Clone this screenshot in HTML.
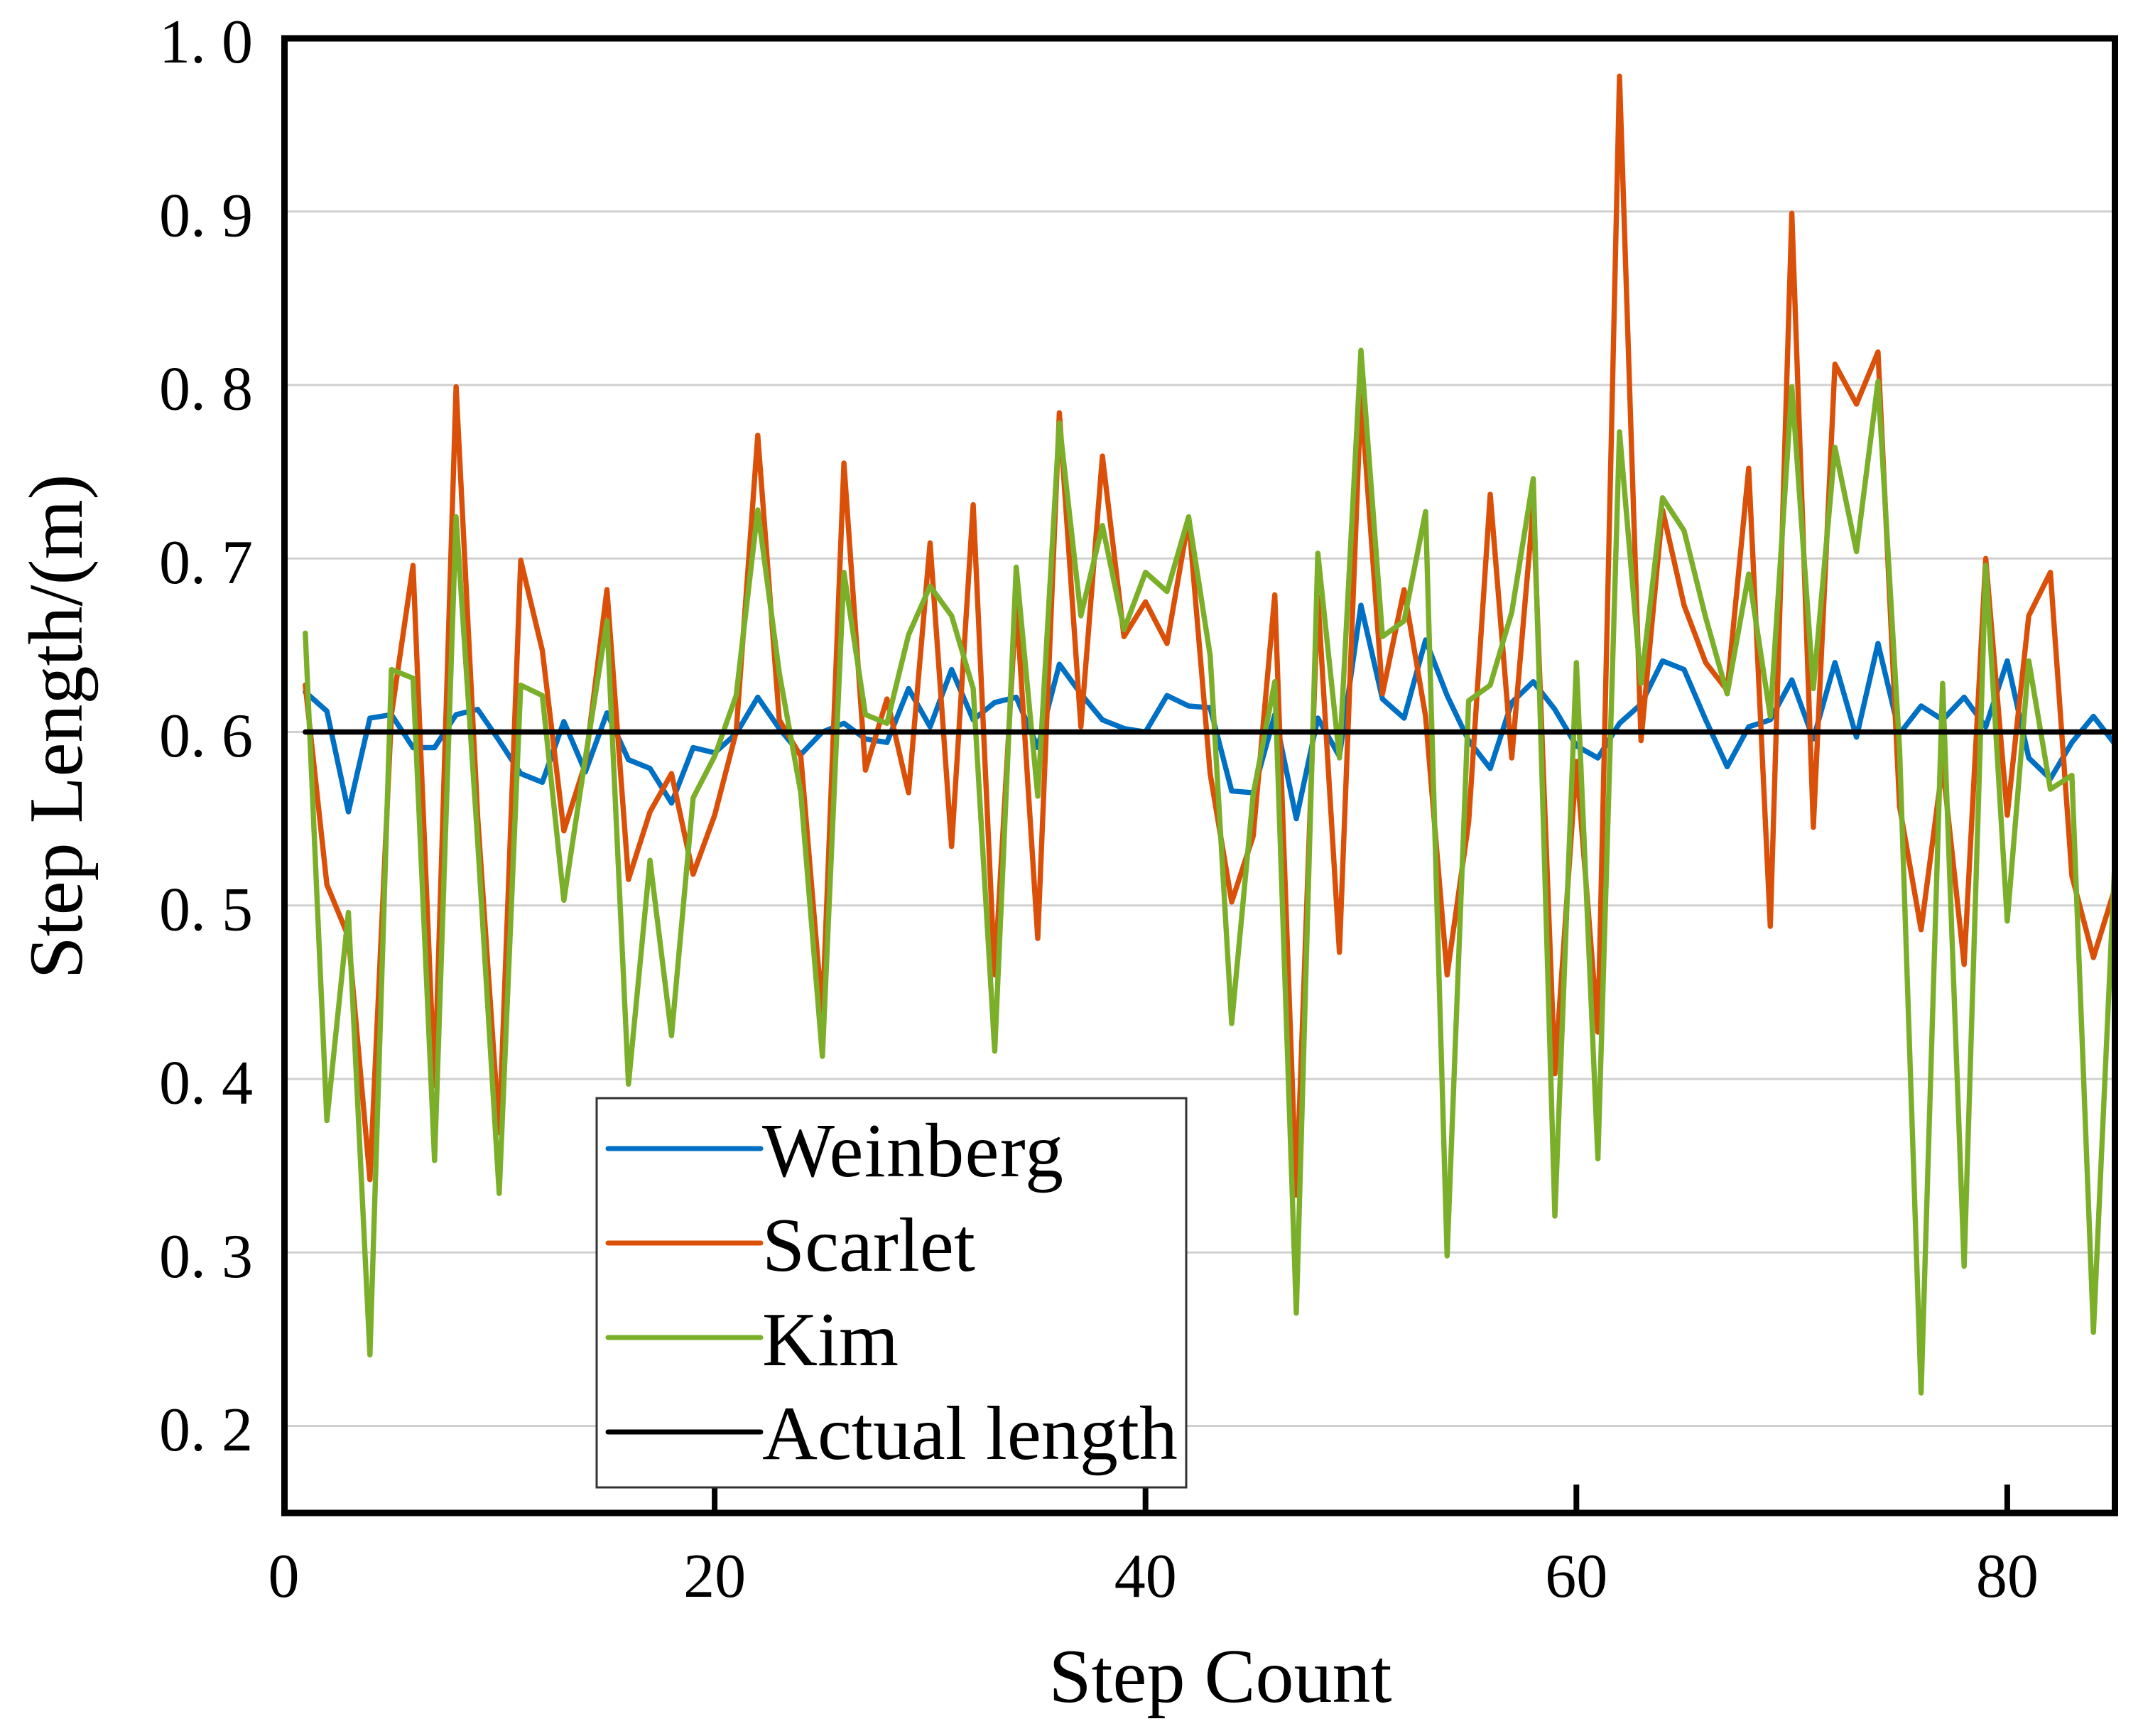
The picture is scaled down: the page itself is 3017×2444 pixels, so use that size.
<!DOCTYPE html>
<html>
<head>
<meta charset="utf-8">
<title>Step Length Chart</title>
<style>
html,body{margin:0;padding:0;background:#fff;}
svg{display:block;}
text{font-family:"Liberation Serif",serif;fill:#000;}
</style>
</head>
<body>
<svg id="chart" xmlns="http://www.w3.org/2000/svg" width="3017" height="2444" viewBox="0 0 3017 2444">
  <rect x="0" y="0" width="3017" height="2444" fill="#ffffff"/>
  <g id="grid"></g>
  <g id="ticks"></g>
  <g id="series"></g>
  <rect x="400.5" y="54" width="2577" height="2076" fill="none" stroke="#000" stroke-width="9"/>
  <g id="ylabels"></g>
  <g id="xlabels"></g>
  <text transform="translate(115,1023) rotate(-90)" text-anchor="middle" font-size="108">Step Length/(m)</text>
  <text x="1718" y="2396" text-anchor="middle" font-size="108">Step Count</text>
  <g>
    <rect x="840" y="1546" width="830" height="548" fill="#ffffff" stroke="#333" stroke-width="3"/>
    <line x1="856" y1="1617" x2="1071" y2="1617" stroke="#0070C4" stroke-width="7" stroke-linecap="round"/>
    <text x="1073" y="1656" font-size="108" textLength="424" lengthAdjust="spacing">Weinberg</text>
    <line x1="856" y1="1750" x2="1071" y2="1750" stroke="#DB5009" stroke-width="7" stroke-linecap="round"/>
    <text x="1073" y="1789" font-size="108">Scarlet</text>
    <line x1="856" y1="1883" x2="1071" y2="1883" stroke="#7BAF2A" stroke-width="7" stroke-linecap="round"/>
    <text x="1073" y="1922" font-size="108">Kim</text>
    <line x1="856" y1="2016" x2="1071" y2="2016" stroke="#000000" stroke-width="7" stroke-linecap="round"/>
    <text x="1073" y="2054" font-size="108">Actual length</text>
  </g>
</svg>
<script>
const stepCounts = [1,2,3,4,5,6,7,8,9,10,11,12,13,14,15,16,17,18,19,20,21,22,23,24,25,26,27,28,29,30,31,32,33,34,35,36,37,38,39,40,41,42,43,44,45,46,47,48,49,50,51,52,53,54,55,56,57,58,59,60,61,62,63,64,65,66,67,68,69,70,71,72,73,74,75,76,77,78,79,80,81,82,83,84,85];
const weinberg = [.623,.612,.554,.608,.610,.591,.591,.610,.613,.595,.576,.571,.606,.577,.611,.584,.579,.559,.591,.588,.599,.620,.602,.587,.600,.605,.596,.594,.625,.603,.636,.607,.617,.620,.591,.639,.622,.607,.602,.600,.621,.615,.614,.566,.565,.610,.550,.608,.586,.673,.619,.608,.653,.621,.595,.579,.617,.629,.613,.592,.585,.605,.616,.641,.636,.607,.580,.603,.607,.630,.596,.640,.597,.651,.599,.615,.607,.620,.603,.641,.585,.573,.594,.609,.593];
const scarlet = [.627,.512,.482,.342,.610,.696,.396,.799,.551,.369,.699,.647,.543,.582,.682,.515,.554,.576,.518,.552,.600,.771,.607,.586,.437,.755,.578,.619,.565,.709,.534,.731,.460,.675,.481,.784,.603,.759,.655,.675,.651,.723,.576,.502,.540,.679,.333,.678,.473,.794,.622,.682,.609,.460,.548,.737,.585,.730,.403,.583,.427,.978,.595,.728,.673,.640,.624,.752,.488,.899,.545,.812,.789,.819,.557,.486,.581,.466,.700,.552,.667,.692,.517,.470,.510];
const kim = [.657,.376,.496,.241,.636,.631,.353,.724,.537,.334,.627,.621,.503,.585,.664,.397,.526,.425,.562,.586,.621,.728,.634,.565,.413,.692,.610,.605,.656,.684,.667,.625,.416,.695,.563,.778,.667,.719,.659,.692,.681,.724,.644,.432,.564,.629,.265,.703,.585,.820,.655,.664,.727,.298,.618,.627,.669,.746,.321,.640,.354,.773,.628,.735,.716,.666,.622,.691,.609,.799,.625,.764,.704,.802,.590,.219,.628,.292,.696,.491,.641,.567,.575,.254,.527];
const actualStart = [1, 85];
const actualLength = [0.6, 0.6];
const yTickValues = [0.2,0.3,0.4,0.5,0.6,0.7,0.8,0.9,1.0];
const yTickLabels = ['0. 2','0. 3','0. 4','0. 5','0. 6','0. 7','0. 8','0. 9','1. 0'];
const xTickValues = [0,20,40,60,80];
const xTickLabels = ['0','20','40','60','80'];

const NS = 'http://www.w3.org/2000/svg';
function xScale(v){ return 399.5 + v * 30.33; }
function yScale(v){ return 53.5 + (1 - v) * 2442.5; }
function make(tag, parentId, props){
  const el = document.createElementNS(NS, tag);
  for (const k in props) el.setAttribute(k, props[k]);
  document.getElementById(parentId).appendChild(el);
  return el;
}
function drawSeries(name, xs, ys, color, width){
  const pts = ys.map(function(v, i){ return xScale(xs[i]).toFixed(1) + ',' + yScale(v).toFixed(1); }).join(' ');
  const el = make('polyline', 'series', {points: pts, fill: 'none', stroke: color, 'stroke-width': width, 'stroke-linejoin': 'round', 'stroke-linecap': 'round'});
  
  
}

yTickValues.forEach(function(v, i){
  if (v < 1) {
    const line = make('line', 'grid', {x1: 405, x2: 2973, y1: yScale(v), y2: yScale(v), stroke: '#d0d0d0', 'stroke-width': 3});
    
    
  }
  const label = make('text', 'ylabels', {x: 356, y: yScale(v) + 34.5, 'text-anchor': 'end', 'font-size': 88});
  
  
  label.textContent = yTickLabels[i];
});

xTickValues.forEach(function(v, i){
  if (v > 0) {
    const tick = make('line', 'ticks', {x1: xScale(v), x2: xScale(v), y1: 2090, y2: 2130, stroke: '#000', 'stroke-width': 8});
    
    
  }
  const label = make('text', 'xlabels', {x: xScale(v), y: 2248, 'text-anchor': 'middle', 'font-size': 88});
  
  
  label.textContent = xTickLabels[i];
});

drawSeries('series-weinberg', stepCounts, weinberg, '#0070C4', 7.4);
drawSeries('series-scarlet', stepCounts, scarlet, '#DB5009', 7.4);
drawSeries('series-kim', stepCounts, kim, '#7BAF2A', 7.4);
drawSeries('series-actual-length', actualStart, actualLength, '#000000', 7.4);
</script>
</body>
</html>
